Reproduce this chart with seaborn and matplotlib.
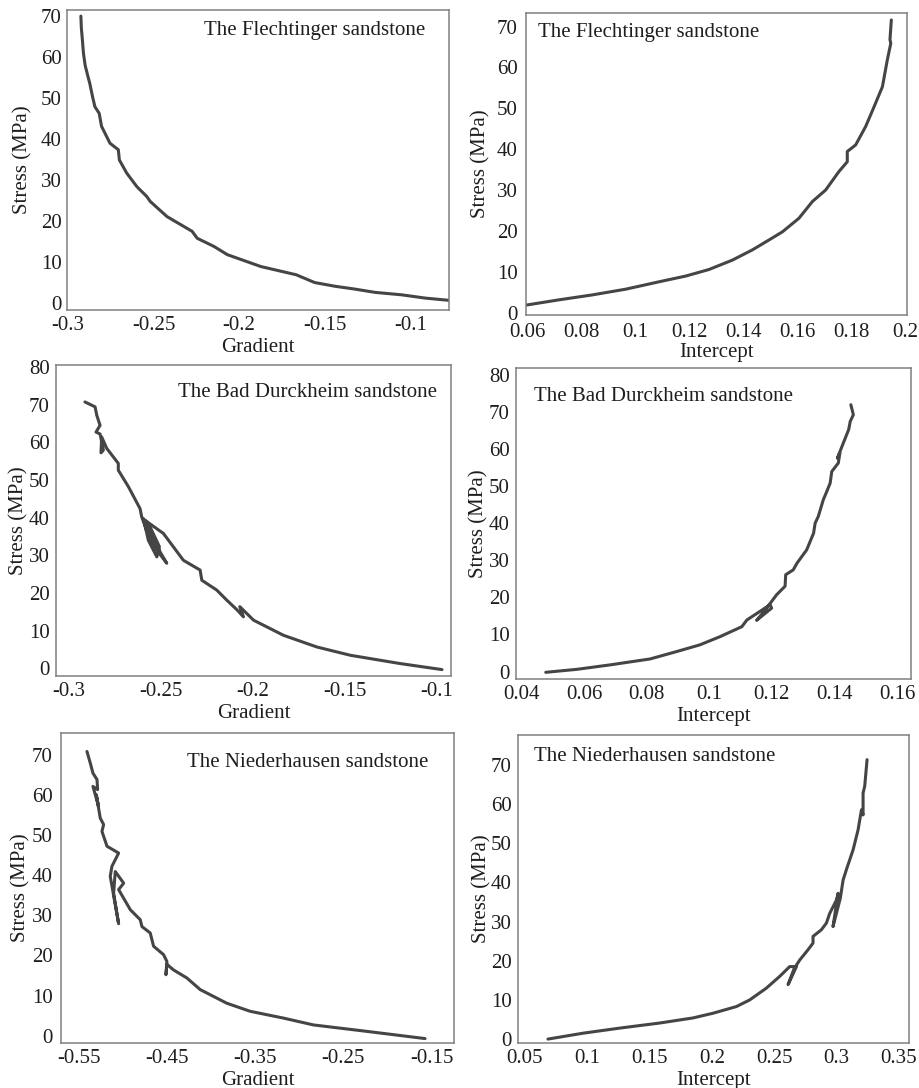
import numpy as np
import pandas as pd
import matplotlib
matplotlib.use("Agg")
import matplotlib.pyplot as plt
import seaborn as sns

# ---------------- data ----------------
flech_grad_x = [-0.2925, -0.2922, -0.2916, -0.2910, -0.2900, -0.2885, -0.2873, -0.2857, -0.2843, -0.2818,
                -0.2804, -0.2755, -0.2706, -0.2700, -0.2657, -0.2598, -0.2540, -0.2520, -0.2422, -0.2324,
                -0.2275, -0.2245, -0.2147, -0.2069, -0.1873, -0.1667, -0.1559, -0.1441, -0.1324, -0.1206,
                -0.1050, -0.0912, -0.0759]
flech_grad_y = [70.0, 67.0, 64.2, 61.0, 58.0, 55.5, 53.6, 50.4, 47.9, 46.3,
                43.1, 39.0, 37.4, 34.9, 31.7, 28.4, 26.0, 24.8, 21.1, 18.7,
                17.5, 15.8, 13.8, 11.8, 8.9, 6.9, 5.0, 4.1, 3.4, 2.6,
                2.0, 1.2, 0.6]

flech_int_x = [0.0594, 0.0717, 0.0840, 0.0964, 0.1087, 0.1186, 0.1272, 0.1359, 0.1433, 0.1494,
               0.1544, 0.1605, 0.1655, 0.1704, 0.1753, 0.1784, 0.1784, 0.1815, 0.1852, 0.1883,
               0.1914, 0.1932, 0.1945, 0.1942, 0.1947]
flech_int_y = [2.0, 3.3, 4.5, 5.9, 7.7, 9.1, 10.7, 13.0, 15.5, 17.9,
               19.9, 23.2, 27.3, 30.1, 34.6, 37.0, 39.5, 41.1, 45.6, 50.4,
               55.3, 61.8, 65.9, 66.8, 71.6]

bad_grad_x = [-0.2910, -0.2855, -0.2846, -0.2828, -0.2850, -0.2828, -0.2810, -0.2823, -0.2819, -0.2792,
              -0.2729, -0.2729, -0.2674, -0.2611, -0.2602, -0.2575, -0.2520, -0.2466, -0.2502, -0.2548,
              -0.2593, -0.2566, -0.2520, -0.2506, -0.2557, -0.2584, -0.2484, -0.2376, -0.2285, -0.2276,
              -0.2195, -0.2140, -0.2086, -0.2050, -0.2070, -0.1995, -0.1833, -0.1652, -0.1470, -0.1200,
              -0.0973]
bad_grad_y = [70.7, 69.4, 67.2, 64.5, 62.7, 62.2, 57.9, 57.2, 61.4, 58.4,
              54.4, 52.6, 48.2, 42.4, 40.2, 36.6, 31.4, 27.9, 30.9, 35.8,
              39.8, 34.0, 29.6, 32.3, 37.6, 39.3, 35.8, 28.7, 26.1, 23.4,
              20.8, 18.1, 15.6, 13.7, 16.4, 12.8, 8.8, 5.7, 3.5, 1.3,
              -0.3]

bad_int_x = [0.0478, 0.0577, 0.0683, 0.0811, 0.0896, 0.0970, 0.1034, 0.1104, 0.1120, 0.1194,
             0.1199, 0.1151, 0.1175, 0.1215, 0.1242, 0.1244, 0.1268, 0.1280, 0.1311, 0.1333,
             0.1338, 0.1348, 0.1364, 0.1375, 0.1386, 0.1391, 0.1412, 0.1417, 0.1409, 0.1428,
             0.1445, 0.1450, 0.1460, 0.1452]
bad_int_y = [-0.2, 0.6, 1.8, 3.4, 5.4, 7.2, 9.4, 12.1, 13.9, 18.0,
             17.1, 13.8, 16.2, 20.7, 23.0, 26.1, 27.4, 29.2, 32.8, 37.3,
             40.0, 41.8, 46.3, 48.5, 50.8, 53.9, 56.2, 58.9, 57.5, 61.6,
             65.2, 67.4, 69.2, 71.9]

nied_grad_x = [-0.5406, -0.5368, -0.5338, -0.5292, -0.5285, -0.5338, -0.5274, -0.5300, -0.5255, -0.5217,
               -0.5236, -0.5179, -0.5047, -0.5123, -0.5142, -0.5047, -0.5104, -0.5085, -0.4990, -0.5047,
               -0.4915, -0.4802, -0.4783, -0.4689, -0.4651, -0.4538, -0.4500, -0.4511, -0.4500, -0.4425,
               -0.4274, -0.4123, -0.3821, -0.3557, -0.3179, -0.2840, -0.2236, -0.1575]
nied_grad_y = [70.8, 67.9, 65.4, 63.8, 61.3, 62.1, 57.1, 60.0, 54.2, 52.6,
               50.9, 47.2, 45.5, 42.2, 39.7, 27.9, 35.5, 40.9, 38.0, 36.4,
               31.4, 28.9, 27.2, 25.6, 22.3, 20.2, 18.5, 15.2, 17.8, 16.4,
               14.4, 11.5, 8.1, 6.1, 4.4, 2.7, 1.1, -0.7]

nied_int_x = [0.0687, 0.0968, 0.1262, 0.1583, 0.1850, 0.2010, 0.2197, 0.2304, 0.2437, 0.2544,
              0.2624, 0.2678, 0.2611, 0.2660, 0.2705, 0.2771, 0.2811, 0.2811, 0.2878, 0.2918,
              0.2945, 0.2999, 0.3012, 0.2971, 0.3030, 0.3052, 0.3078, 0.3132, 0.3172, 0.3199,
              0.3212, 0.3212, 0.3225, 0.3244]
nied_int_y = [0.0, 1.5, 2.8, 4.1, 5.4, 6.6, 8.3, 10.0, 13.0, 16.0,
              18.5, 18.5, 13.9, 18.0, 20.2, 22.8, 24.5, 26.2, 27.9, 29.6,
              32.1, 35.5, 37.2, 28.7, 36.0, 40.6, 43.2, 48.3, 53.4, 58.5,
              57.2, 62.8, 64.5, 71.3]

titles = ["The Flechtinger sandstone", "The Bad Durckheim sandstone", "The Niederhausen sandstone"]

grad_ticks_1 = ["-0.3", "-0.25", "-0.2", "-0.15", "-0.1"]
int_ticks_1 = ["0.06", "0.08", "0.1", "0.12", "0.14", "0.16", "0.18", "0.2"]
grad_ticks_2 = ["-0.3", "-0.25", "-0.2", "-0.15", "-0.1"]
int_ticks_2 = ["0.04", "0.06", "0.08", "0.1", "0.12", "0.14", "0.16"]
grad_ticks_3 = ["-0.55", "-0.45", "-0.35", "-0.25", "-0.15"]
int_ticks_3 = ["0.05", "0.1", "0.15", "0.2", "0.25", "0.3", "0.35"]
y_ticks_70 = ["0", "10", "20", "30", "40", "50", "60", "70"]
y_ticks_80 = ["0", "10", "20", "30", "40", "50", "60", "70", "80"]

# ---------------- style ----------------
sns.set_theme(style="white")
plt.rcParams["font.family"] = ["Liberation Serif", "DejaVu Serif"]
plt.rcParams["axes.unicode_minus"] = False

W, H = 919, 1088
fig = plt.figure(figsize=(W / 100, H / 100), dpi=100)
fig.patch.set_facecolor("white")

LINE = "#454545"
TXT = "#1e1e1e"

# (left, right, top, bottom) in pixels
boxes = [
    (67, 449, 10, 310),
    (526, 907, 13, 315),
    (56, 451, 365, 676),
    (516, 911, 368, 679),
    (61, 454, 733, 1043),
    (518, 909, 735, 1043),
]

panels = [
    dict(x=flech_grad_x, y=flech_grad_y, xt=grad_ticks_1, yt=y_ticks_70, xl="Gradient",
         xlim=(-0.3006, -0.0774), ylim=(-1.7, 71.5), title=titles[0], tx=0.937, ty=0.933,
         ha="right", ylp=5.6, ytp=4, xtp=4),
    dict(x=flech_int_x, y=flech_int_y, xt=int_ticks_1, yt=y_ticks_70, xl="Intercept",
         xlim=(0.0595, 0.2005), ylim=(-0.4, 73.3), title=titles[0], tx=0.031, ty=0.934,
         ha="left", ylp=4.9, ytp=6, xtp=5.5),
    dict(x=bad_grad_x, y=bad_grad_y, xt=grad_ticks_2, yt=y_ticks_80, xl="Gradient",
         xlim=(-0.3067, -0.0924), ylim=(-2.0, 80.5), title=titles[1], tx=0.965, ty=0.913,
         ha="right", ylp=0.6, ytp=4.5, xtp=4),
    dict(x=bad_int_x, y=bad_int_y, xt=int_ticks_2, yt=y_ticks_80, xl="Intercept",
         xlim=(0.0383, 0.1644), ylim=(-2.0, 81.8), title=titles[1], tx=0.046, ty=0.907,
         ha="left", ylp=0.6, ytp=4.5, xtp=4),
    dict(x=nied_grad_x, y=nied_grad_y, xt=grad_ticks_3, yt=y_ticks_70, xl="Gradient",
         xlim=(-0.57, -0.1247), ylim=(-1.8, 75.4), title=titles[2], tx=0.934, ty=0.906,
         ha="right", ylp=0.8, ytp=6, xtp=4),
    dict(x=nied_int_x, y=nied_int_y, xt=int_ticks_3, yt=y_ticks_70, xl="Intercept",
         xlim=(0.0447, 0.358), ylim=(-1.0, 77.6), title=titles[2], tx=0.041, ty=0.929,
         ha="left", ylp=-0.4, ytp=4.5, xtp=4),
]

for (l, r, t, b), p in zip(boxes, panels):
    ax = fig.add_axes([l / W, 1 - b / H, (r - l) / W, (b - t) / H])
    df = pd.DataFrame({"x": p["x"], "y": p["y"]})
    sns.lineplot(data=df, x="x", y="y", sort=False, estimator=None, ax=ax,
                 color=LINE, linewidth=2.2)
    ax.set_xlim(*p["xlim"])
    ax.set_ylim(*p["ylim"])
    ax.set_xticks([float(s) for s in p["xt"]], labels=p["xt"])
    ax.set_yticks([float(s) for s in p["yt"]], labels=p["yt"])
    ax.tick_params(axis="both", length=0, labelsize=15, labelcolor=TXT)
    ax.tick_params(axis="x", pad=p["xtp"])
    ax.tick_params(axis="y", pad=p["ytp"])
    ax.set_xlabel(p["xl"], fontsize=15, color=TXT, labelpad=2.5 - (p["xtp"] - 4))
    ax.set_ylabel("Stress (MPa)", fontsize=15, color=TXT, labelpad=p["ylp"])
    for s in ax.spines.values():
        s.set_color("#808080")
        s.set_linewidth(1.1)
    ax.text(p["tx"], p["ty"], p["title"], transform=ax.transAxes, ha=p["ha"], va="center",
            fontsize=15, color=TXT)

fig.savefig("out.png", dpi=100, facecolor="white")
